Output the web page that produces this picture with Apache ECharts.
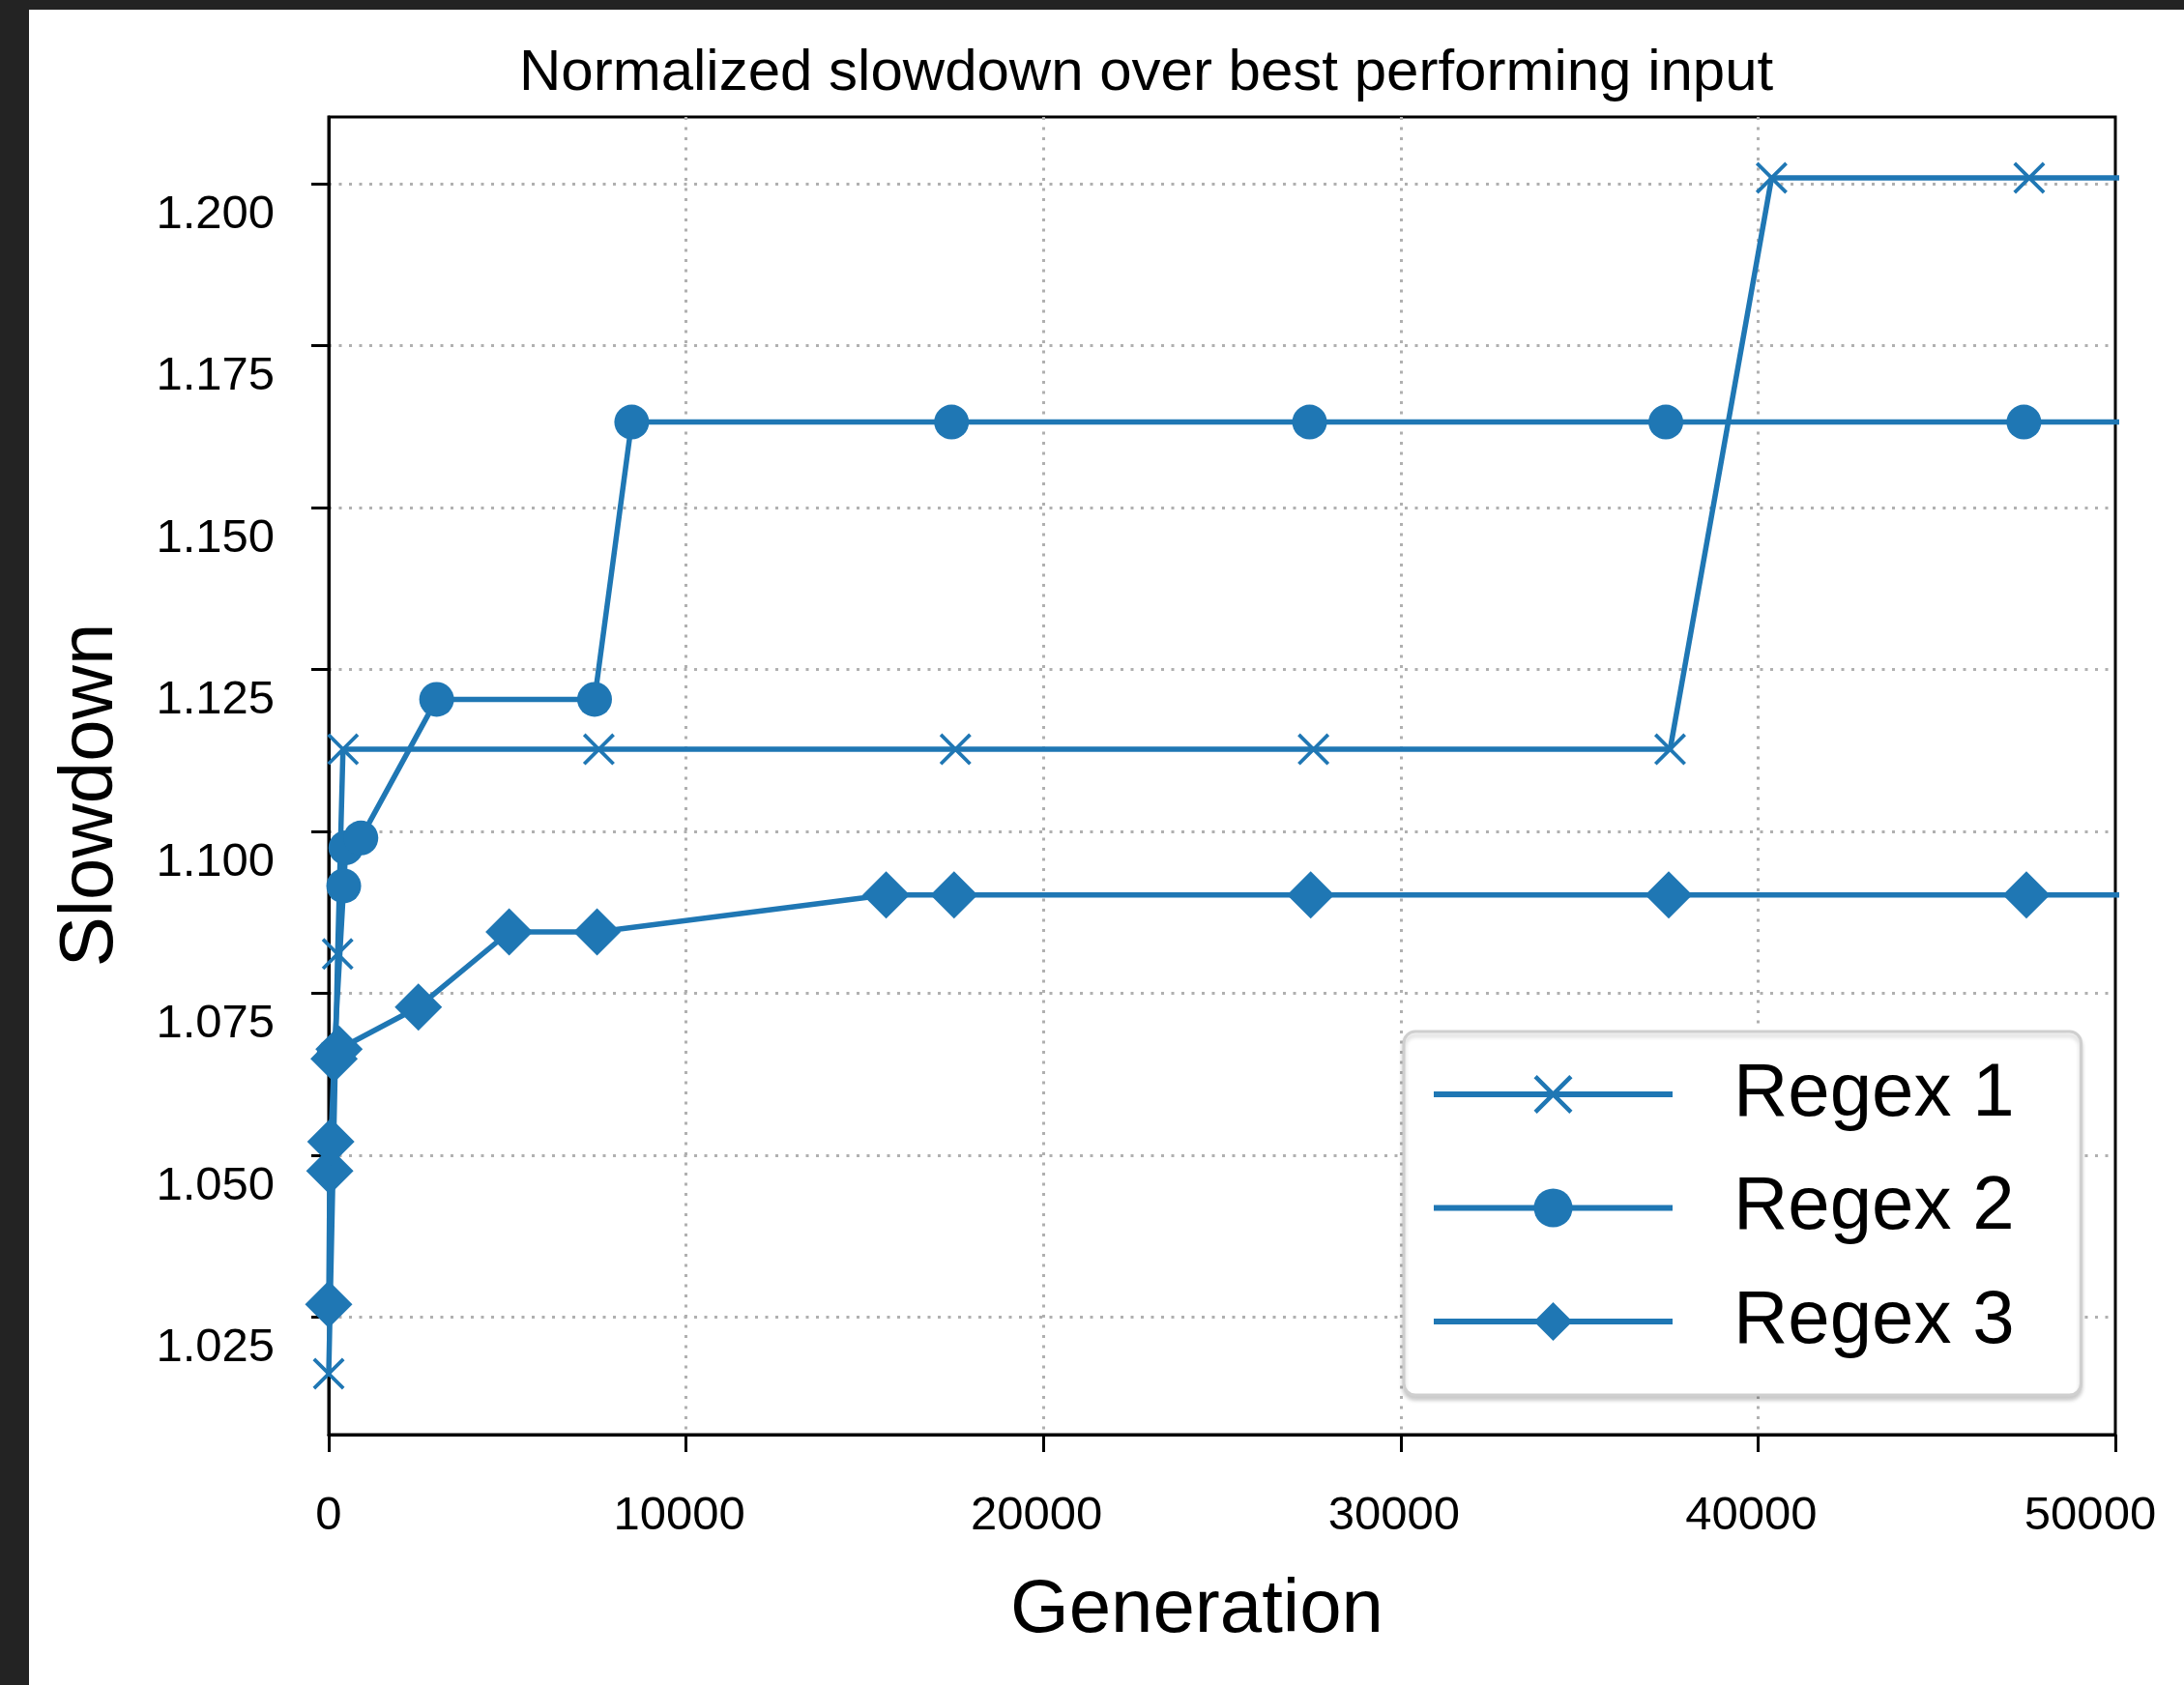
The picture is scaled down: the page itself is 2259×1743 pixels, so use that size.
<!DOCTYPE html>
<html lang="en">
<head>
<meta charset="UTF-8">
<title>Normalized slowdown over best performing input</title>
<script src="https://cdn.jsdelivr.net/npm/echarts@6/dist/echarts.min.js"></script>
<style>
    html, body { margin:0; padding:0; overflow:hidden; background-color:#232323; }
    #chart {
        position:absolute;
        left:30px;
        top:10px;
        width:2229px;
        height:1733px;
        background-color:#fff;
    }
</style>
</head>
<body>
<div id="chart"></div>
<script>
    // generations and slowdown values
    var regex1Gen = [0, 250, 400, 7560, 17540, 27560, 37540, 40380, 47590, 57590];
    var regex1Val = [1.0163, 1.0811, 1.1127, 1.1127, 1.1127, 1.1127, 1.1127, 1.2009, 1.2009, 1.2009];

    var regex2Gen = [150, 420, 480, 900, 3020, 7440, 8480, 17430, 27450, 37420, 47440, 57440];
    var regex2Val = [1.0655, 1.0916, 1.0975, 1.0990, 1.1204, 1.1204, 1.1632, 1.1632, 1.1632, 1.1632, 1.1632, 1.1632];

    var regex3Gen = [0, 30, 60, 150, 290, 2510, 5050, 7510, 15600, 17500, 27480, 37500, 47510, 57510];
    var regex3Val = [1.0270, 1.0476, 1.0521, 1.0649, 1.0664, 1.0729, 1.0845, 1.0845, 1.0902, 1.0902, 1.0902, 1.0902, 1.0902, 1.0902];

    var yTicks = [1.025, 1.050, 1.075, 1.100, 1.125, 1.150, 1.175, 1.200];

    var FONT = '"Liberation Sans", Arial, Helvetica, sans-serif';
    var BLUE = '#1f77b4';
    var xMarker = 'path://M0,8L8,0L50,42L92,0L100,8L58,50L100,92L92,100L50,58L8,100L0,92L42,50Z';

    function pairs(xs, ys){
        var out = [];
        for(var i=0;i<xs.length;i++){
            out.push([xs[i], ys[i]]);
        }
        return out;
    }

    function makeSeries(name, xs, ys, symbol, size){
        return {
            name: name,
            type: 'line',
            data: pairs(xs, ys),
            symbol: symbol,
            symbolSize: size,
            symbolKeepAspect: true,
            showAllSymbol: true,
            clip: true,
            lineStyle: { color: BLUE, width: 5.5 },
            itemStyle: { color: BLUE },
            emphasis: { disabled: true }
        };
    }

    var gridLine = { color: '#b0b0b0', width: 3, type: [3, 7.5] };
    var axisBlack = { color: '#000', width: 3 };

    var myChart = echarts.init(document.getElementById('chart'));
    var option = {
        animation: false,
        backgroundColor: '#fff',
        textStyle: { fontFamily: FONT },
        title: {
            text: 'Normalized slowdown over best performing input',
            left: 507,
            top: 36,
            padding: 0,
            textStyle: { fontFamily: FONT, fontSize: 60, fontWeight: 'normal', color: '#000', lineHeight: 60 }
        },
        grid: {
            left: 310, right: 71, top: 111, bottom: 259,
            show: true, borderColor: '#000', borderWidth: 3,
            backgroundColor: 'transparent'
        },
        legend: {
            orient: 'vertical',
            left: 1422,
            top: 1057,
            padding: [25, 69, 36, 28],
            itemGap: 37.5,
            itemWidth: 247,
            itemHeight: 50,
            backgroundColor: '#fff',
            borderColor: '#cfcfcf',
            borderWidth: 3,
            borderRadius: 12,
            shadowColor: 'rgba(0,0,0,0.18)',
            shadowBlur: 4,
            shadowOffsetY: 4,
            lineStyle: { color: BLUE, width: 6 },
            textStyle: { fontFamily: FONT, fontSize: 78, lineHeight: 80, color: '#000', padding: [0, 0, 0, 58] },
            data: ['Regex 1', 'Regex 2', 'Regex 3']
        },
        xAxis: {
            type: 'value',
            min: 0, max: 50000, interval: 10000,
            name: 'Generation',
            nameLocation: 'middle',
            nameGap: 143,
            nameTextStyle: { fontFamily: FONT, fontSize: 78, color: '#000', padding: [0, 52, 0, 0] },
            axisLine: { show: true, lineStyle: axisBlack },
            axisTick: { show: true, inside: false, length: 18, lineStyle: axisBlack },
            axisLabel: {
                fontFamily: FONT, fontSize: 49, color: '#000', margin: 60,
                formatter: function(v){
                    if(v === 0) return '{a|' + v + '}';
                    if(v === 50000) return '{c|' + v + '}';
                    return '{b|' + v + '}';
                },
                rich: {
                    a: { fontFamily: FONT, fontSize: 49, color: '#000' },
                    b: { fontFamily: FONT, fontSize: 49, color: '#000', padding: [0, 14, 0, 0] },
                    c: { fontFamily: FONT, fontSize: 49, color: '#000', padding: [0, 52, 0, 0] }
                }
            },
            splitLine: { show: true, showMinLine: false, showMaxLine: false, lineStyle: gridLine }
        },
        yAxis: {
            type: 'value',
            min: 1.0069, max: 1.2103,
            name: 'Slowdown',
            nameLocation: 'middle',
            nameRotate: 90,
            nameGap: 207,
            nameTextStyle: { fontFamily: FONT, fontSize: 78, color: '#000', padding: [0, 40, 0, 0] },
            axisLine: { show: true, lineStyle: axisBlack },
            axisTick: { show: true, inside: false, length: 18, lineStyle: axisBlack, customValues: yTicks },
            axisLabel: {
                customValues: yTicks,
                fontFamily: FONT, fontSize: 49, color: '#000', margin: 56,
                verticalAlign: 'top',
                lineHeight: 64,
                formatter: function(v){ return v.toFixed(3); }
            },
            splitLine: { show: true, lineStyle: gridLine }
        },
        series: [
            makeSeries('Regex 1', regex1Gen, regex1Val, xMarker, 33),
            makeSeries('Regex 2', regex2Gen, regex2Val, 'circle', 36),
            makeSeries('Regex 3', regex3Gen, regex3Val, 'diamond', 49)
        ]
    };
    myChart.setOption(option);
</script>
</body>
</html>
